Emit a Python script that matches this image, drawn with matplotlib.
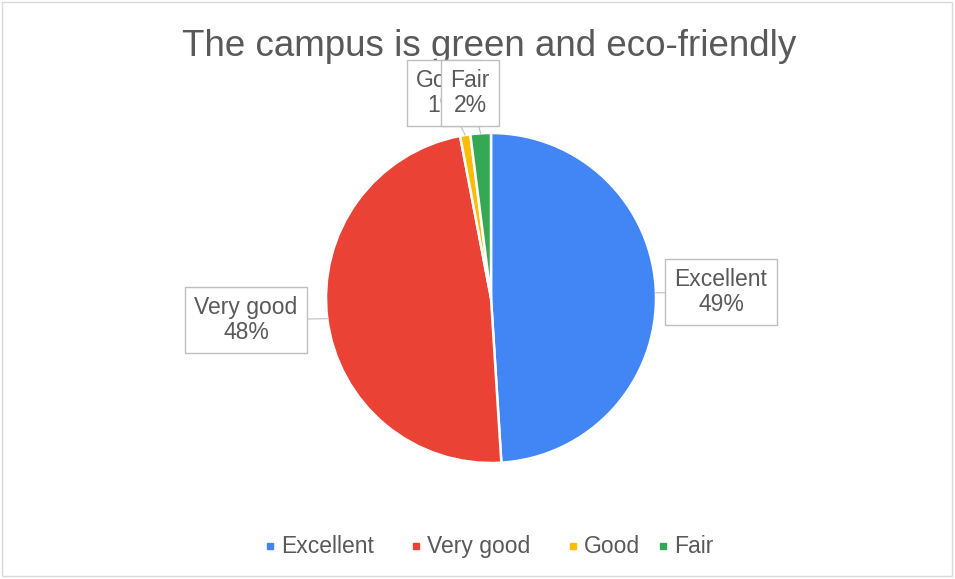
import matplotlib.pyplot as plt
import numpy as np

plt.rcParams['font.family'] = ['Liberation Sans', 'DejaVu Sans']

labels = ['Excellent', 'Very good', 'Good', 'Fair']
values = [49, 48, 1, 2]
colors = ['#4285F4', '#EA4335', '#FBBC04', '#34A853']

W, H = 955, 579
fig = plt.figure(figsize=(W / 100, H / 100), dpi=100)
ax = fig.add_axes([0, 0, 1, 1])

cx, cy, r = 491, 298, 165
# y axis is inverted below, so startangle -90 is the top of the picture
wedges, _ = ax.pie(values, colors=colors, startangle=-90, counterclock=True,
                   center=(cx, cy), radius=r, frame=True,
                   wedgeprops=dict(edgecolor='white', linewidth=1.8))
ax.set_xlim(0, W)
ax.set_ylim(H, 0)
ax.set_aspect('equal')
ax.axis('off')

# outer light border
ax.add_patch(plt.Rectangle((2, 2), W - 5, H - 5, fill=False, ec='#d9d9d9', lw=1))

ax.text(W / 2 + 12, 47, 'The campus is green and eco-friendly', ha='center', va='center',
        fontsize=26.5, color='#595959')

box = dict(boxstyle='square,pad=0.4', fc='white', ec='#bfbfbf', lw=1)
# label box positions (centre) for each slice
pos = [(721, 292), (246, 320), (444, 93), (470, 93)]
tot = sum(values)
acc = 0
for i, v in enumerate(values):
    mid = 90 - (acc + v / 2) / tot * 360
    acc += v
    ex = cx + r * np.cos(np.radians(mid))
    ey = cy - r * np.sin(np.radians(mid))
    ax.plot([ex, pos[i][0]], [ey, pos[i][1]], color='#bfbfbf', lw=0.8, zorder=1)

for i in range(len(labels)):
    ax.text(pos[i][0], pos[i][1], f'{labels[i]}\n{values[i]}%', ha='center', va='center',
            fontsize=16.5, color='#595959', bbox=box, linespacing=1.1, zorder=5 + i)

# legend, drawn by hand so all entries share one baseline
leg_x = [270, 416, 573, 663]
for x, lab, c in zip(leg_x, labels, colors):
    ax.plot(x, 546, marker='s', color=c, markersize=5, ls='')
    ax.text(x + 11, 553, lab, ha='left', va='baseline', fontsize=16.5, color='#595959')

fig.savefig('out.png', dpi=100)
